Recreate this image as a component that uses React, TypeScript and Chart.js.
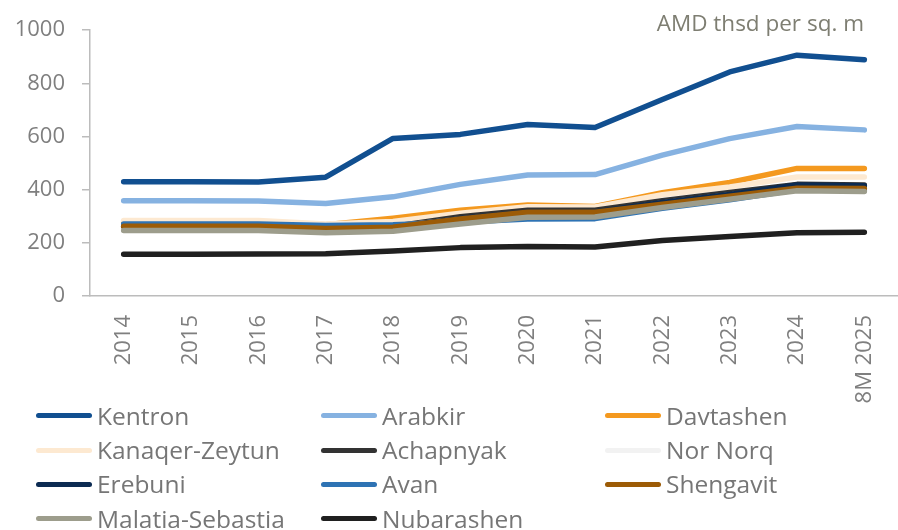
import React, { useEffect, useRef } from "react";
import { Chart, registerables } from "chart.js";

Chart.register(...registerables);

// Categories
const years = ["2014", "2015", "2016", "2017", "2018", "2019", "2020", "2021", "2022", "2023", "2024", "8M 2025"];

// Series values (AMD thsd per sq. m)
const kentron = [430, 430, 429, 447, 593, 608, 645, 634, 739, 843, 906, 889];
const arabkir = [358, 358, 357, 348, 373, 420, 455, 457, 530, 592, 638, 625];
const davtashen = [277, 277, 277, 268, 293, 323, 342, 337, 389, 427, 480, 480];
const kanaqerZeytun = [284, 284, 284, 271, 280, 311, 336, 335, 381, 410, 448, 448];
const achapnyak = [262, 262, 262, 255, 262, 298, 323, 323, 358, 389, 420, 418];
const norNorq = [265, 265, 265, 258, 262, 290, 312, 312, 350, 380, 412, 410];
const erebuni = [262, 262, 262, 255, 260, 292, 315, 316, 352, 382, 418, 415];
const avan = [271, 271, 271, 265, 268, 277, 290, 291, 330, 362, 400, 398];
const shengavit = [262, 262, 262, 254, 259, 290, 315, 315, 345, 375, 405, 404];
const malatiaSebastia = [246, 246, 246, 238, 244, 271, 296, 297, 333, 364, 396, 393];
const nubarashen = [157, 157, 158, 159, 169, 182, 186, 184, 209, 224, 238, 240];

const seriesNames = [
  "Kentron", "Arabkir", "Davtashen",
  "Kanaqer-Zeytun", "Achapnyak", "Nor Norq",
  "Erebuni", "Avan", "Shengavit",
  "Malatia-Sebastia", "Nubarashen",
];
const seriesColors = [
  "#114f90", "#86b2e1", "#f4991f",
  "#fde9d1", "#333333", "#f2f2f2",
  "#0c2b52", "#2e73b4", "#9c5b06",
  "#9d9d8c", "#202020",
];

// y-axis ticks
const yMin = 0;
const yMax = 1000;
const yStep = 200;

const unitLabel = "AMD thsd per sq. m";

const FONT = "'Open Sans', sans-serif";
const TICK_COLOR = "#7f7f7f";
const AXIS_COLOR = "#bcbcbc";

export default function App() {
  const ref = useRef<HTMLCanvasElement>(null);

  useEffect(() => {
    const series = [
      kentron, arabkir, davtashen, kanaqerZeytun, achapnyak, norNorq,
      erebuni, avan, shengavit, malatiaSebastia, nubarashen,
    ];
    const chart = new Chart(ref.current as HTMLCanvasElement, {
      type: "line",
      data: {
        labels: years,
        datasets: series.map((d, i) => ({
          label: seriesNames[i],
          data: d,
          borderColor: seriesColors[i],
          backgroundColor: seriesColors[i],
          borderWidth: 5.5,
          pointRadius: 0,
          pointHoverRadius: 0,
          tension: 0,
          fill: false,
          borderCapStyle: "round" as const,
          borderJoinStyle: "round" as const,
          order: series.length - i,
        })),
      },
      options: {
        responsive: false,
        animation: false,
        devicePixelRatio: 1,
        layout: { padding: { top: 28, right: 6, left: 0, bottom: 0 } },
        plugins: {
          legend: { display: false },
          tooltip: { enabled: false },
          title: { display: false },
        },
        scales: {
          x: {
            type: "category",
            offset: true,
            grid: { display: true, drawOnChartArea: false, drawTicks: false, color: AXIS_COLOR },
            border: { display: true, color: AXIS_COLOR, width: 1.5 },
            ticks: {
              autoSkip: false,
              maxRotation: 90,
              minRotation: 90,
              padding: 19,
              color: TICK_COLOR,
              font: { family: FONT, size: 22 },
            },
            afterFit: (s: any) => {
              s.height = 234;
            },
          },
          y: {
            min: yMin,
            max: yMax,
            ticks: {
              stepSize: yStep,
              padding: 17,
              color: TICK_COLOR,
              font: { family: FONT, size: 22 },
              callback: (v: any) => String(v),
            },
            grid: {
              display: true,
              drawOnChartArea: false,
              drawTicks: true,
              tickLength: 8,
              color: AXIS_COLOR,
              lineWidth: 1.5,
            },
            border: { display: true, color: AXIS_COLOR, width: 1.5 },
            afterFit: (s: any) => {
              s.width = 90;
            },
          },
        },
      },
    });
    return () => chart.destroy();
  }, []);

  const colLeft = [36, 321, 605];
  const rowTop = 415.7;
  const rowGap = 34.3;

  return (
    <div
      style={{
        position: "fixed",
        left: 0,
        top: 0,
        width: 898,
        height: 530,
        overflow: "hidden",
        background: "#ffffff",
      }}
    >
      <canvas ref={ref} width={910} height={530} style={{ position: "absolute", left: 0, top: 0 }} />
      <div
        style={{
          position: "absolute",
          right: 898 - 864,
          top: 7,
          fontFamily: FONT,
          fontSize: 22.5,
          color: "#7e7e72",
          whiteSpace: "nowrap",
          lineHeight: "normal",
        }}
      >
        {unitLabel}
      </div>
      {seriesNames.map((name, i) => {
        const col = i % 3;
        const row = Math.floor(i / 3);
        return (
          <div
            key={name}
            style={{
              position: "absolute",
              left: colLeft[col],
              top: rowTop + row * rowGap - 17,
              height: 34,
              display: "flex",
              alignItems: "center",
              whiteSpace: "nowrap",
            }}
          >
            <div
              style={{
                width: 56,
                height: 5,
                borderRadius: 3,
                background: seriesColors[i],
              }}
            />
            <span
              style={{
                marginLeft: 5,
                fontFamily: FONT,
                fontSize: 24.5,
                color: "#767676",
                lineHeight: "34px",
              }}
            >
              {name}
            </span>
          </div>
        );
      })}
    </div>
  );
}
